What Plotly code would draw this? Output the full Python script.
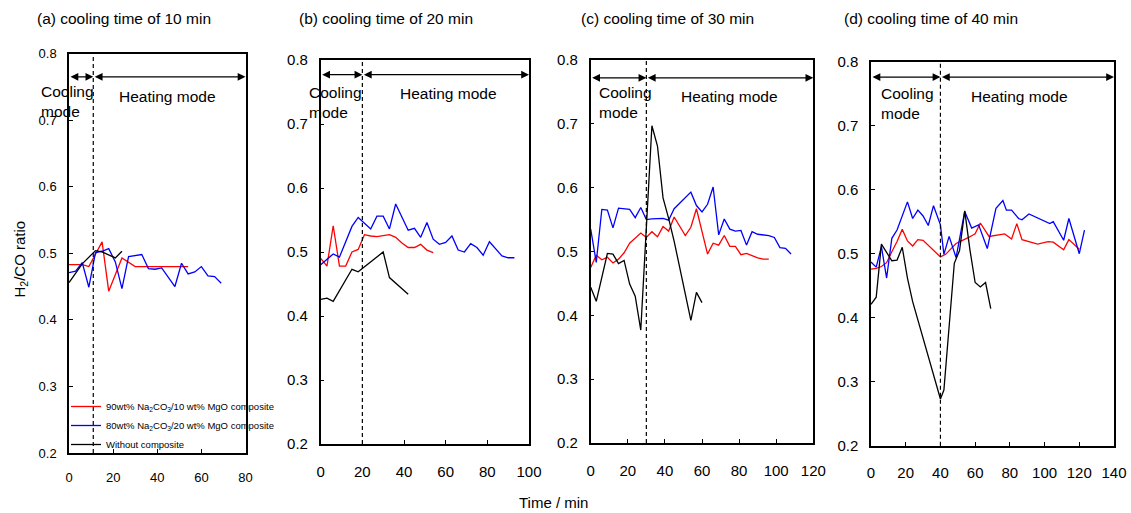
import plotly.graph_objects as go

W, H = 1131, 513

# ---------------- data ----------------
# (a) cooling time of 10 min
a_red_t = [0, 3, 6, 9, 15, 18, 24, 30, 36, 42, 48, 54]
a_red_v = [0.483, 0.483, 0.483, 0.480, 0.517, 0.443, 0.493, 0.480, 0.480, 0.480, 0.480, 0.480]
a_blue_t = [0, 3, 6, 9, 12, 15, 18, 21, 24, 27, 33, 36, 39, 42, 48, 51, 54, 57, 60, 63, 66, 69]
a_blue_v = [0.471, 0.473, 0.486, 0.449, 0.501, 0.503, 0.507, 0.487, 0.447, 0.495, 0.498, 0.477,
            0.476, 0.478, 0.450, 0.485, 0.469, 0.472, 0.480, 0.466, 0.465, 0.455]
a_black_t = [0, 6, 12, 15, 21, 24]
a_black_v = [0.456, 0.484, 0.504, 0.502, 0.493, 0.503]

# (b) cooling time of 20 min
b_red_t = [0, 3, 6, 9, 12, 15, 18, 21, 24, 27, 33, 36, 39, 42, 45, 48, 51, 54]
b_red_v = [0.490, 0.478, 0.541, 0.478, 0.478, 0.500, 0.504, 0.527, 0.525, 0.524, 0.527, 0.523,
           0.514, 0.507, 0.507, 0.512, 0.503, 0.499]
b_blue_t = [0, 6, 9, 15, 18, 24, 27, 30, 33, 36, 42, 45, 48, 51, 54, 57, 60, 63, 66, 69, 72, 75,
            78, 81, 87, 90, 93]
b_blue_v = [0.480, 0.497, 0.492, 0.540, 0.554, 0.536, 0.556, 0.556, 0.536, 0.575, 0.534, 0.537,
            0.523, 0.546, 0.520, 0.512, 0.515, 0.525, 0.503, 0.500, 0.513, 0.507, 0.495, 0.516,
            0.494, 0.491, 0.491]
b_black_t = [0, 3, 6, 15, 18, 30, 33, 42]
b_black_v = [0.426, 0.428, 0.423, 0.473, 0.469, 0.500, 0.460, 0.434]

# (c) cooling time of 30 min
c_red_t = [0, 3, 6, 9, 12, 15, 18, 21, 27, 30, 33, 36, 39, 42, 45, 51, 54, 57, 63, 66, 69, 72,
           75, 78, 81, 84, 90, 93, 96]
c_red_v = [0.475, 0.494, 0.487, 0.491, 0.482, 0.488, 0.498, 0.513, 0.529, 0.522, 0.531, 0.523,
           0.539, 0.532, 0.554, 0.525, 0.538, 0.567, 0.496, 0.513, 0.510, 0.525, 0.508, 0.508,
           0.495, 0.497, 0.490, 0.488, 0.488]
c_blue_t = [0, 3, 6, 9, 12, 15, 21, 24, 27, 30, 33, 39, 42, 45, 54, 57, 60, 63, 66, 69, 72, 75,
            78, 81, 84, 87, 90, 96, 99, 102, 105, 108]
c_blue_v = [0.535, 0.483, 0.566, 0.565, 0.537, 0.568, 0.566, 0.553, 0.569, 0.550, 0.551, 0.552,
            0.549, 0.567, 0.593, 0.572, 0.562, 0.574, 0.601, 0.526, 0.551, 0.535, 0.532, 0.533,
            0.510, 0.531, 0.527, 0.525, 0.522, 0.506, 0.505, 0.496]
c_black_t = [0, 3, 9, 12, 15, 18, 21, 24, 27, 33, 36, 39, 42, 45, 54, 57, 60]
c_black_v = [0.444, 0.422, 0.497, 0.496, 0.481, 0.486, 0.449, 0.430, 0.377, 0.697, 0.665, 0.584,
             0.552, 0.516, 0.392, 0.436, 0.420]

# (d) cooling time of 40 min
d_red_t = [0, 3, 6, 9, 12, 15, 18, 21, 24, 27, 30, 40, 43, 49, 56, 60, 63, 68, 77, 81, 84, 87,
           96, 102, 105, 111, 114, 120]
d_red_v = [0.476, 0.477, 0.480, 0.486, 0.503, 0.519, 0.538, 0.520, 0.512, 0.522, 0.521, 0.495,
           0.499, 0.516, 0.525, 0.531, 0.548, 0.527, 0.531, 0.523, 0.547, 0.522, 0.515, 0.519,
           0.518, 0.506, 0.522, 0.507]
d_blue_t = [0, 3, 6, 9, 12, 15, 21, 24, 27, 30, 33, 36, 40, 42, 45, 49, 54, 58, 62, 67, 72, 76,
            78, 81, 85, 87, 91, 97, 103, 105, 111, 114, 120, 123]
d_blue_v = [0.487, 0.479, 0.511, 0.462, 0.524, 0.537, 0.581, 0.555, 0.568, 0.559, 0.544, 0.575,
            0.545, 0.499, 0.527, 0.494, 0.566, 0.540, 0.545, 0.508, 0.571, 0.583, 0.568, 0.568,
            0.555, 0.553, 0.562, 0.555, 0.547, 0.550, 0.521, 0.555, 0.500, 0.537]
d_black_t = [0, 3, 6, 12, 15, 18, 21, 24, 40, 42, 48, 51, 54, 57, 60, 63, 66, 69]
d_black_v = [0.421, 0.432, 0.515, 0.489, 0.490, 0.510, 0.462, 0.425, 0.273, 0.287, 0.485, 0.505,
             0.567, 0.506, 0.455, 0.448, 0.455, 0.414]

panel_titles = ["(a) cooling time of 10 min", "(b) cooling time of 20 min",
                "(c) cooling time of 30 min", "(d) cooling time of 40 min"]
cool_times = [11, 20, 30, 40]
x_max = [80, 100, 120, 140]
series_names = ["90wt% Na<sub>2</sub>CO<sub>3</sub>/10 wt% MgO composite",
                "80wt% Na<sub>2</sub>CO<sub>3</sub>/20 wt% MgO composite",
                "Without composite"]
series_colors = ["#ff0000", "#0000ff", "#000000"]

panels = [
    [(a_red_t, a_red_v), (a_blue_t, a_blue_v), (a_black_t, a_black_v)],
    [(b_red_t, b_red_v), (b_blue_t, b_blue_v), (b_black_t, b_black_v)],
    [(c_red_t, c_red_v), (c_blue_t, c_blue_v), (c_black_t, c_black_v)],
    [(d_red_t, d_red_v), (d_blue_t, d_blue_v), (d_black_t, d_black_v)],
]

# ---------------- layout helpers ----------------
def px(x):
    return x / W

def py(y):
    return 1 - y / H

# pixel boxes: left, right, top, bottom
boxes = [(69, 245.5, 53.5, 453), (320.7, 529, 60, 444),
         (590.7, 813.3, 60, 443), (871, 1114, 61.7, 445.7)]
tick_font = [13, 15, 15, 15]
x_standoff = [12, 13, 13, 13]
arrow_y = [0.765, 0.777, 0.772, 0.776]
title_x = [35, 297, 579, 842]
cool_x = [39, 307, 597, 879]
cool_y = [101, 103, 103, 103.5]
heat_x = [117, 398, 679, 969]
heat_y = [96, 93.5, 96, 96]

FONT = "Liberation Sans, Arial, sans-serif"

fig = go.Figure()
layout = dict(
    width=W, height=H, margin=dict(l=0, r=0, t=0, b=0, pad=0, autoexpand=False),
    paper_bgcolor="white", plot_bgcolor="white",
    font=dict(family=FONT, color="black"),
    showlegend=True,
    legend=dict(x=px(66), y=py(392), xanchor="left", yanchor="top",
                bgcolor="rgba(0,0,0,0)", font=dict(size=9.5, family=FONT, color="black"),
                tracegroupgap=0, itemwidth=30),
)
annotations = []
shapes = []

for i, series in enumerate(panels):
    xa = "x" if i == 0 else f"x{i+1}"
    ya = "y" if i == 0 else f"y{i+1}"
    l, r, t, b = boxes[i]
    for j, (tt, vv) in enumerate(series):
        fig.add_trace(go.Scatter(
            x=tt, y=vv, mode="lines", name=series_names[j],
            line=dict(color=series_colors[j], width=1.3),
            xaxis=xa, yaxis=ya, showlegend=(i == 0),
        ))
    axis_common = dict(showline=True, linecolor="black", linewidth=1.5, mirror=True,
                       ticks="inside", ticklen=4, tickwidth=1, tickcolor="black",
                       showgrid=False, zeroline=False, automargin=False,
                       tickfont=dict(size=tick_font[i], family=FONT, color="black"))
    layout["xaxis" if i == 0 else f"xaxis{i+1}"] = dict(
        domain=[px(l), px(r)], range=[0, x_max[i]], dtick=20, tick0=0,
        anchor=ya, ticklabelstandoff=x_standoff[i], **axis_common)
    layout["yaxis" if i == 0 else f"yaxis{i+1}"] = dict(
        domain=[py(b), py(t)], range=[0.2, 0.8], dtick=0.1, tick0=0.2, tickformat=".1f",
        anchor=xa, ticklabelstandoff=8, **axis_common)

    xref = xa
    yref = ya
    # dashed boundary between cooling and heating
    shapes.append(dict(type="line", xref=xref, yref=yref, x0=cool_times[i], x1=cool_times[i],
                       y0=0.2, y1=0.8, line=dict(color="black", width=1.2, dash="4px,3px")))
    # double arrows
    for (x0, x1) in [(0, cool_times[i]), (cool_times[i], x_max[i])]:
        annotations.append(dict(
            x=x1, y=arrow_y[i], ax=x0, ay=arrow_y[i], xref=xref, yref=yref,
            axref=xref, ayref=yref, text="", showarrow=True,
            arrowhead=2, startarrowhead=2, arrowside="end+start",
            arrowsize=1.2, startarrowsize=1.2, arrowwidth=1.3, arrowcolor="black"))
    # texts
    annotations.append(dict(x=px(title_x[i]), y=py(19), xref="paper", yref="paper",
                            xanchor="left", yanchor="middle", showarrow=False,
                            text=panel_titles[i], font=dict(size=15.5, family=FONT, color="black")))
    annotations.append(dict(x=px(cool_x[i]), y=py(cool_y[i]), xref="paper", yref="paper",
                            xanchor="left", yanchor="middle", align="left", showarrow=False,
                            text="Cooling<br>mode", font=dict(size=15.5, family=FONT, color="black")))
    annotations.append(dict(x=px(heat_x[i]), y=py(heat_y[i]), xref="paper", yref="paper",
                            xanchor="left", yanchor="middle", showarrow=False,
                            text="Heating mode", font=dict(size=15.5, family=FONT, color="black")))

annotations.append(dict(x=px(553), y=py(502), xref="paper", yref="paper",
                        xanchor="center", yanchor="middle", showarrow=False, borderpad=0,
                        text="Time / min", font=dict(size=15, family=FONT, color="black")))
annotations.append(dict(x=px(19.5), y=py(259), xref="paper", yref="paper",
                        xanchor="center", yanchor="middle", showarrow=False, textangle=-90,
                        text="H<sub>2</sub>/CO ratio", font=dict(size=15, family=FONT, color="black")))

layout["annotations"] = annotations
layout["shapes"] = shapes
fig.update_layout(**layout)
fig.write_html("out.html")
